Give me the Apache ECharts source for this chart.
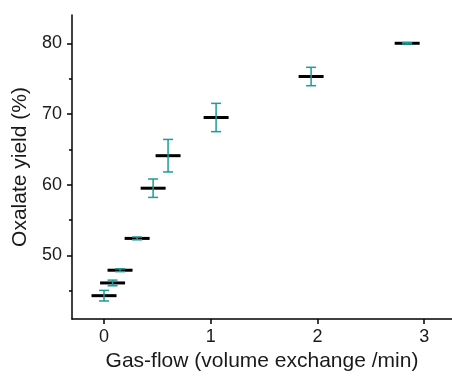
<!DOCTYPE html>
<html><head><meta charset="utf-8">
<script src="https://cdn.jsdelivr.net/npm/echarts@6/dist/echarts.min.js"></script>
<style>html,body{margin:0;padding:0;background:#fff}#c{width:452px;height:377px}</style>
</head><body><div id="c"></div>
<script>
var gasFlow = [0.0, 0.08, 0.15, 0.31, 0.46, 0.60, 1.05, 1.94, 2.84];
var yieldVals = [44.3, 46.1, 47.9, 52.4, 59.5, 64.1, 69.5, 75.3, 80.0];
var yieldErr = [0.75, 0.4, 0.2, 0.2, 1.3, 2.3, 2.0, 1.3, 0.1];
var xTicks = [0, 1, 2, 3];
var yTicks = [50, 60, 70, 80];
var yMinorTicks = [45, 55, 65, 75];

var data = gasFlow.map(function (x, i) { return [x, yieldVals[i], yieldErr[i]]; });
var teal = '#1a9c98';
var font = 'Liberation Sans, Arial, sans-serif';
var txt = '#1a1a1a';

var chart = echarts.init(document.getElementById('c'), null, {renderer: 'canvas'});
chart.setOption({
  animation: false,
  grid: {left: 72, top: 15, right: 0, bottom: 54, containLabel: false},
  xAxis: {
    type: 'value', min: -0.3, max: 3.26,
    name: 'Gas-flow (volume exchange /min)', nameLocation: 'middle', nameGap: 32,
    nameTextStyle: {fontSize: 21, color: txt, fontFamily: font, verticalAlign: 'top'},
    axisLine: {show: true, onZero: false, lineStyle: {color: '#000', width: 1.5}},
    axisTick: {show: true, length: 5, lineStyle: {color: '#000', width: 1.5}, customValues: xTicks},
    axisLabel: {fontSize: 18, color: txt, fontFamily: font, margin: 9, customValues: xTicks},
    splitLine: {show: false}
  },
  yAxis: [{
    type: 'value', min: 41, max: 84, position: 'left',
    name: 'Oxalate yield (%)', nameLocation: 'middle', nameGap: 35,
    nameTextStyle: {fontSize: 21, color: txt, fontFamily: font},
    axisLine: {show: true, onZero: false, lineStyle: {color: '#000', width: 1.5}},
    axisTick: {show: true, length: 5, lineStyle: {color: '#000', width: 1.5}, customValues: yTicks},
    axisLabel: {fontSize: 18, color: txt, fontFamily: font, margin: 10, customValues: yTicks},
    splitLine: {show: false}
  }, {
    type: 'value', min: 41, max: 84, position: 'left', offset: 0,
    axisLine: {show: false, onZero: false},
    axisTick: {show: true, length: 3, lineStyle: {color: '#000', width: 1.5}, customValues: yMinorTicks},
    axisLabel: {show: false},
    splitLine: {show: false}
  }],
  series: [{
    type: 'custom',
    yAxisIndex: 0,
    data: data,
    encode: {x: 0, y: 1},
    renderItem: function (params, api) {
      var x = api.value(0), y = api.value(1), e = api.value(2);
      var c = api.coord([x, y]);
      var top = api.coord([x, y + e]);
      var bot = api.coord([x, y - e]);
      var hw = 12.5, cap = 5;
      return {
        type: 'group',
        children: [
          {type: 'line', shape: {x1: c[0] - hw, y1: c[1], x2: c[0] + hw, y2: c[1]},
           style: {stroke: '#000', lineWidth: 3}},
          {type: 'line', shape: {x1: top[0], y1: top[1], x2: bot[0], y2: bot[1]},
           style: {stroke: teal, lineWidth: 1.5}},
          {type: 'line', shape: {x1: top[0] - cap, y1: top[1], x2: top[0] + cap, y2: top[1]},
           style: {stroke: teal, lineWidth: 1.5}},
          {type: 'line', shape: {x1: bot[0] - cap, y1: bot[1], x2: bot[0] + cap, y2: bot[1]},
           style: {stroke: teal, lineWidth: 1.5}}
        ]
      };
    }
  }]
});
</script></body></html>
